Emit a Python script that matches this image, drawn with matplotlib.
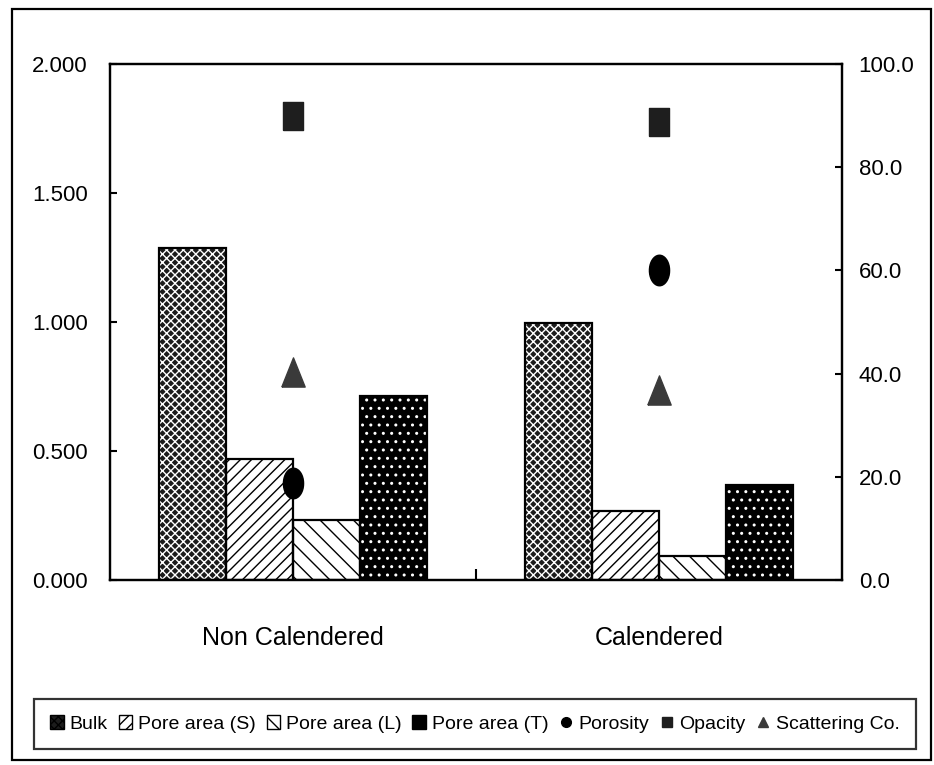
import matplotlib
matplotlib.use("Agg")
import matplotlib.pyplot as plt
import numpy as np
from matplotlib.patches import Patch, Rectangle
from matplotlib.lines import Line2D
from matplotlib.path import Path

plt.rcParams['font.family'] = ['Liberation Sans', 'DejaVu Sans']
plt.rcParams['hatch.linewidth'] = 1.0

categories = ["Non Calendered", "Calendered"]
bar_series = ["Bulk", "Pore area (S)", "Pore area (L)", "Pore area (T)"]
bulk = [1.285, 0.998]
pore_s = [0.468, 0.266]
pore_l = [0.233, 0.093]
pore_t = [0.713, 0.368]
porosity = [18.8, 60.1]
opacity = [89.9, 88.8]
scattering = [40.4, 36.9]
left_ticks = [0.0, 0.5, 1.0, 1.5, 2.0]
right_ticks = [0, 20, 40, 60, 80, 100]

fig = plt.figure(figsize=(9.34, 7.65), dpi=100)
ax = fig.add_axes([110/934, 1-580/765, 732/934, 516/765])
ax2 = ax.twinx()

x = np.arange(len(categories))
w = 0.183
styles = [
    dict(fc='#1c1c1c', hc='white', hatch='xxxx'),
    dict(fc='white', hc='black', hatch='///'),
    dict(fc='white', hc='black', hatch='\\\\'),
    dict(fc='black', hc='white', hatch='..'),
]
series_vals = [bulk, pore_s, pore_l, pore_t]
handles = []
for i, (vals, st, name) in enumerate(zip(series_vals, styles, bar_series)):
    pos = x + (i - 1.5) * w
    ax.bar(pos, vals, width=w, color=st['fc'], edgecolor=st['hc'], hatch=st['hatch'], linewidth=0, zorder=2)
    ax.bar(pos, vals, width=w, facecolor='none', edgecolor='black', linewidth=1.6, zorder=3)
    handles.append(Patch(facecolor=st['fc'], edgecolor='black', hatch=st['hatch'], linewidth=1.0, label=name))

ellipse = Path([(0.33*np.cos(t), 0.5*np.sin(t)) for t in np.linspace(0, 2*np.pi, 40)])
square = [(-0.36, -0.5), (0.36, -0.5), (0.36, 0.5), (-0.36, 0.5), (-0.36, -0.5)]
tri = [(-0.4, -0.5), (0.4, -0.5), (0.0, 0.5), (-0.4, -0.5)]

ax2.plot(x, porosity, linestyle='none', marker=ellipse, markersize=22, color='black', zorder=4)
ax2.plot(x, opacity, linestyle='none', marker=square, markersize=20, color='#1e1e1e', zorder=4)
ax2.plot(x, scattering, linestyle='none', marker=tri, markersize=21, color='#3a3a3a', zorder=4)

handles.append(Line2D([], [], linestyle='none', marker='o', markersize=7, color='black', label='Porosity'))
handles.append(Line2D([], [], linestyle='none', marker='s', markersize=7, color='#1e1e1e', label='Opacity'))
handles.append(Line2D([], [], linestyle='none', marker='^', markersize=7, color='#3a3a3a', label='Scattering Co.'))

ax.set_xlim(-0.5, 1.5)
ax.set_ylim(0, 2.0)
ax2.set_ylim(0, 100)
ax.set_yticks(left_ticks)
ax.set_yticklabels([f"{v:.3f}" for v in left_ticks], fontsize=16)
ax2.set_yticks(right_ticks)
ax2.set_yticklabels([f"{v:.1f}" for v in right_ticks], fontsize=16)
ax.set_xticks(x)
ax.set_xticklabels(categories, fontsize=18)
ax.tick_params(axis='x', length=0, pad=33)
ax.set_xticks([0.5], minor=True)
ax.tick_params(axis='x', which='minor', direction='in', length=8, width=1.5)
ax.tick_params(axis='y', direction='in', length=5, width=1.5, pad=16)
ax2.tick_params(axis='y', direction='in', length=5, width=1.5, pad=12)
for a in (ax, ax2):
    for s in a.spines.values():
        s.set_linewidth(1.6)

leg = fig.legend(handles=handles, loc='center', bbox_to_anchor=(475/934, 1-724/765), ncol=7,
                 frameon=True, fancybox=False, edgecolor='black', fontsize=14,
                 handlelength=0.7, handleheight=0.7, handletextpad=0.3, columnspacing=0.55,
                 borderpad=0.85, borderaxespad=0)
leg.get_frame().set_linewidth(1.6)

fig.patches.append(Rectangle((12/934, 1-760/765), (931-12)/934, (760-9)/765, transform=fig.transFigure,
                             fill=False, edgecolor='black', linewidth=1.6, zorder=-1))

fig.savefig("out.png", dpi=100)
